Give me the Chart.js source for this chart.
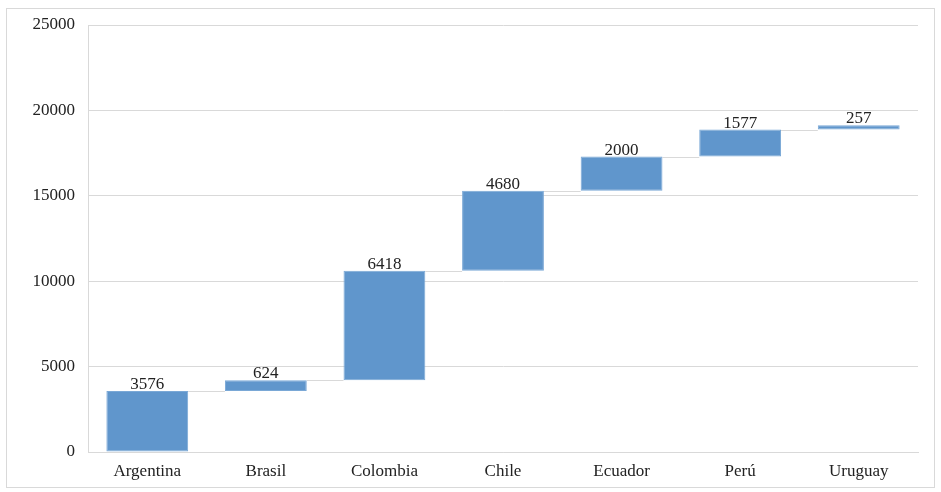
<!DOCTYPE html>
<html>
<head>
<meta charset="utf-8">
<script src="https://cdn.jsdelivr.net/npm/chart.js@4/dist/chart.umd.min.js"></script>
<style>
  html, body { margin: 0; padding: 0; background: #fff; }
  #frame {
    position: absolute; left: 6px; top: 8px;
    width: 927px; height: 478px;
    border: 1px solid #d9d9d9;
  }
  #wf { display: block; }
</style>
</head>
<body>
<div id="frame"><canvas id="wf" width="927" height="478"></canvas></div>
<script>
document.addEventListener("DOMContentLoaded", () => {
  const countries = ["Argentina", "Brasil", "Colombia", "Chile", "Ecuador", "Perú", "Uruguay"];
  const increments = [3576, 624, 6418, 4680, 2000, 1577, 257];
  const yTicks = [0, 5000, 10000, 15000, 20000, 25000];

  // running totals -> floating [start, end] pairs
  const ranges = [];
  let total = 0;
  increments.forEach(v => {
    ranges.push([total, total + v]);
    total += v;
  });

  const serif = "'Liberation Serif', 'Times New Roman', serif";

  // thin connectors from the top of each bar to the base of the next
  const connectors = {
    id: "connectors",
    beforeDatasetsDraw(chart) {
      const meta = chart.getDatasetMeta(0);
      const y = chart.scales.y;
      const ctx = chart.ctx;
      ctx.save();
      ctx.strokeStyle = "#d9d9d9";
      ctx.lineWidth = 1;
      for (let i = 0; i < meta.data.length - 1; i++) {
        const a = meta.data[i], b = meta.data[i + 1];
        const py = Math.round(y.getPixelForValue(ranges[i][1])) + 0.5;
        ctx.beginPath();
        ctx.moveTo(a.x + a.width / 2, py);
        ctx.lineTo(b.x - b.width / 2, py);
        ctx.stroke();
      }
      ctx.restore();
    }
  };

  // value labels above each bar
  const valueLabels = {
    id: "valueLabels",
    afterDatasetsDraw(chart) {
      const meta = chart.getDatasetMeta(0);
      const ctx = chart.ctx;
      ctx.save();
      ctx.font = "17px " + serif;
      ctx.fillStyle = "#222";
      ctx.textAlign = "center";
      ctx.textBaseline = "bottom";
      meta.data.forEach((bar, i) => {
        ctx.fillText(String(increments[i]), bar.x, bar.y + 2);
      });
      ctx.restore();
    }
  };

  const ctx = document.getElementById("wf").getContext("2d");
  new Chart(ctx, {
    type: "bar",
    data: {
      labels: countries,
      datasets: [{
        data: ranges,
        backgroundColor: "#6096cc",
        borderColor: "#7aa8d6",
        borderWidth: 1,
        borderSkipped: false,
        barPercentage: 0.69,
        categoryPercentage: 1.0
      }]
    },
    options: {
      responsive: false,
      animation: false,
      layout: { padding: { top: 16, right: 16, bottom: 0, left: 0 } },
      plugins: {
        legend: { display: false },
        tooltip: { enabled: false }
      },
      scales: {
        x: {
          grid: { display: false, drawTicks: false },
          border: { display: true, color: "#d9d9d9" },
          ticks: { color: "#222", font: { family: serif, size: 17 }, padding: 9 },
          afterFit: s => { s.height = 35; }
        },
        y: {
          min: 0,
          max: 25000,
          afterBuildTicks: s => { s.ticks = yTicks.map(v => ({ value: v })); },
          grid: { color: "#d9d9d9", drawTicks: false },
          border: { display: true, color: "#d9d9d9" },
          ticks: {
            color: "#222",
            font: { family: serif, size: 17 },
            padding: 13,
            callback: v => String(v)
          },
          afterFit: s => {
            s.width = 81;
            s.paddingTop = 0;
            s.paddingBottom = 0;
          }
        }
      }
    },
    plugins: [connectors, valueLabels]
  });
});
</script>
</body>
</html>
